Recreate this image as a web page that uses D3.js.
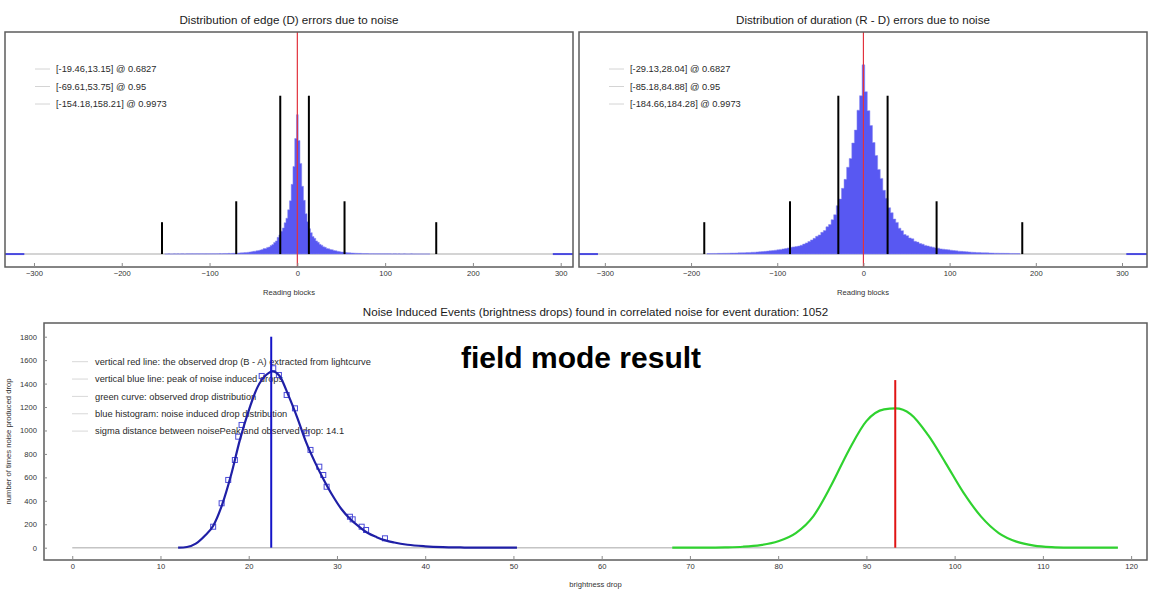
<!DOCTYPE html>
<html><head><meta charset="utf-8">
<script src="https://cdn.jsdelivr.net/npm/d3@7"></script>
<style>
body{margin:0;background:#fff}
svg text{font-family:"Liberation Sans",Arial,sans-serif}
</style>
</head><body>
<svg id="c" width="1152" height="592"></svg>
<script>
// ---------------- DATA ----------------
const topTitles = ["Distribution of edge (D) errors due to noise", "Distribution of duration (R - D) errors due to noise"];
const topXLabel = "Reading blocks";
const topTicks = [-300, -200, -100, 0, 100, 200, 300];
const confidenceLevels = ["0.6827", "0.95", "0.9973"];
const intervalMarkerHeights = [1590, 530, 320];

// edge (D) error histogram: bins of 2 blocks, centres from -150 to 150
const edgeBinStart = -150, edgeBinStep = 2;
const edgeCounts = [
  1,1,2,1,1,2,1,2,1,2,2,1,2,2,2,3,2,2,3,2,3,3,2,3,3,
  3,3,4,3,4,4,5,4,5,6,5,7,6,7,8,8,9,11,12,13,15,16,18,20,23,
  27,29,33,36,41,45,55,56,67,71,86,95,116,132,168,192,230,262,315,360,445,535,700,880,1160,
  1400,
  1140,910,680,540,405,325,255,215,176,158,132,118,98,89,73,68,56,53,45,43,36,34,28,26,21,
  20,18,16,14,12,11,10,9,8,7,7,6,5,5,5,4,4,4,3,3,3,3,2,2,2,
  2,2,2,1,2,2,1,2,1,1,2,1,1,1,2,1,1,1,1,1,1,1,1,1,1
];
const edgeIntervals = [[-19.46, 13.15], [-69.61, 53.75], [-154.18, 158.21]];
const edgeOverflow = [[-333, -311], [291, 314]];

// duration (R - D) error histogram: bins of 3 blocks, centres from -180 to 180
const durBinStart = -180, durBinStep = 3;
const durCounts = [
  5,5,6,6,7,7,8,8,9,10, 10,11,12,13,14,15,16,18,19,21, 23,25,27,30,33,36,39,42,47,52,
  56,62,68,72,76,80,88,100,112,125, 142,158,178,192,218,236,274,296,345,395, 486,552,660,750,872,960,1115,1245,1445,1590,
  1900,
  1630,1440,1290,1120,990,850,760,640,560,465, 415,352,318,260,235,196,184,162,153,128, 120,106,99,87,81,73,69,61,59,52,
  49,45,42,39,35,32,29,27,25,23, 21,19,17,16,15,14,13,12,11,10, 9,9,8,8,7,7,6,6,5,5
];
const durIntervals = [[-29.13, 28.04], [-85.18, 84.88], [-184.66, 184.28]];
const durOverflow = [[-330, -308], [305, 329]];

// bottom panel
const bottomTitle = "Noise Induced Events (brightness drops) found in correlated noise for event duration: 1052";
const bottomXLabel = "brightness drop";
const bottomYLabel = "number of times noise produced drop";
const bottomXTicks = [0, 10, 20, 30, 40, 50, 60, 70, 80, 90, 100, 110, 120];
const bottomYTicks = [0, 200, 400, 600, 800, 1000, 1200, 1400, 1600, 1800];
const bottomLegend = [
  "vertical red line: the observed drop (B - A) extracted from lightcurve",
  "vertical blue line: peak of noise induced drops",
  "green curve: observed drop distribution",
  "blue histogram: noise induced drop distribution",
  "sigma distance between noisePeak and observed drop: 14.1"
];
const stampText = "field mode result";
const baselineRange = [0, 118.5];

const noiseDropX = [12,13,14,15,16,17,18,19,20,21,22,22.7,23.5,24.5,25.5,26.5,27.5,28.5,29.5,30.5,31.5,32.5,33.5,34.5,35.5,36.5,38,40,42,44,46,50.4];
const noiseDropCount = [0,6,35,100,190,370,620,920,1170,1370,1475,1505,1465,1300,1110,900,730,580,445,330,245,180,125,90,62,44,25,12,5,2,0,0];

const histMarkerX = [15.97,16.93,17.68,18.43,18.81,19.19,21.47,22.78,23.42,24.3,25.24,26.56,27.0,28.0,28.45,28.83,31.47,31.78,32.8,33.3,35.44];
const histMarkerCount = [179,379,578,748,947,1047,1465,1531,1473,1303,1189,976,834,691,620,520,264,242,179,151,80];

const observedDropX = [68,70,72,74,76,78,80,82,84,86,88,90,92,93.3,95,97,99,101,103,105,107,109,111,113,115,118.5];
const observedDropCount = [0,0,1,3,8,22,55,125,270,530,830,1080,1180,1188,1140,960,720,470,265,125,52,18,5,1,0,0];

const noisePeak = 22.55, noisePeakTop = 1800;
const observedDrop = 93.27, observedDropTop = 1430;

// ---------------- DRAW ----------------
const svg = d3.select("#c");
const FRAME = "#5c5c5c";
const FONT = "Liberation Sans, Arial, sans-serif";

function topPanel(cfg) {
  const x = d3.scaleLinear().domain(cfg.domain).range([cfg.left, cfg.right]);
  const y = d3.scaleLinear().domain([-130, 2230]).range([cfg.bottom, cfg.top]);
  const g = svg.append("g");

  g.append("text").attr("x", (cfg.left + cfg.right) / 2).attr("y", cfg.top - 8)
    .attr("text-anchor", "middle").attr("font-size", 11.6).attr("fill", "#1a1a1a").text(cfg.title);

  // legend
  cfg.intervals.forEach((iv, i) => {
    const ly = cfg.legendY + i * 17.5;
    g.append("line").attr("x1", cfg.legendX).attr("x2", cfg.legendX + 15).attr("y1", ly).attr("y2", ly)
      .attr("stroke", "#d4d4d4").attr("stroke-width", 1);
    g.append("text").attr("x", cfg.legendX + 21).attr("y", ly).attr("dy", "0.35em")
      .attr("font-size", 9.3).attr("fill", "#2a2a2a")
      .text(`[${iv[0]},${iv[1]}] @ ${confidenceLevels[i]}`);
  });

  // baseline
  g.append("line").attr("x1", cfg.left).attr("x2", cfg.right).attr("y1", y(0)).attr("y2", y(0))
    .attr("stroke", "#c6c6c6").attr("stroke-width", 1.5);

  // histogram
  const pts = cfg.counts.map((c, i) => [cfg.start + i * cfg.step - cfg.step / 2, c]);
  pts.push([cfg.start + (cfg.counts.length - 1) * cfg.step + cfg.step / 2, cfg.counts[cfg.counts.length - 1]]);
  const area = d3.area().x(d => x(d[0])).y0(y(0)).y1(d => y(d[1])).curve(d3.curveStepAfter);
  g.append("path").attr("d", area(pts)).attr("fill", "#5858f2").attr("stroke", "#8a8af0").attr("stroke-width", 0.5);

  cfg.overflow.forEach(r => {
    g.append("line").attr("x1", x(r[0])).attr("x2", x(r[1])).attr("y1", y(0)).attr("y2", y(0))
      .attr("stroke", "#4a4ae0").attr("stroke-width", 2);
  });

  // confidence interval markers
  cfg.intervals.forEach((iv, i) => {
    iv.forEach(v => {
      g.append("line").attr("x1", x(v)).attr("x2", x(v)).attr("y1", y(0)).attr("y2", y(intervalMarkerHeights[i]))
        .attr("stroke", "#000").attr("stroke-width", 2);
    });
  });

  // red zero line
  g.append("line").attr("x1", x(0)).attr("x2", x(0)).attr("y1", cfg.bottom).attr("y2", cfg.top)
    .attr("stroke", "#e2323c").attr("stroke-width", 1.2);

  // frame
  g.append("rect").attr("x", cfg.left).attr("y", cfg.top).attr("width", cfg.right - cfg.left)
    .attr("height", cfg.bottom - cfg.top).attr("fill", "none").attr("stroke", FRAME).attr("stroke-width", 1.5);

  // axis
  const ax = g.append("g").attr("transform", `translate(0,${cfg.bottom})`)
    .call(d3.axisBottom(x).tickValues(topTicks).tickSize(-4).tickPadding(4));
  ax.select(".domain").remove();
  ax.selectAll("line").attr("stroke", "#8a8a8a");
  ax.selectAll("text").attr("font-size", 7.6).attr("fill", "#333").attr("font-family", FONT);

  g.append("text").attr("x", (cfg.left + cfg.right) / 2).attr("y", cfg.bottom + 28)
    .attr("text-anchor", "middle").attr("font-size", 7.6).attr("fill", "#333").text(topXLabel);
}

topPanel({left: 5, right: 573, top: 32, bottom: 267, domain: [-333, 314], title: topTitles[0],
  counts: edgeCounts, start: edgeBinStart, step: edgeBinStep, intervals: edgeIntervals,
  overflow: edgeOverflow, legendX: 35, legendY: 69});
topPanel({left: 579, right: 1147, top: 32, bottom: 267, domain: [-330, 329], title: topTitles[1],
  counts: durCounts, start: durBinStart, step: durBinStep, intervals: durIntervals,
  overflow: durOverflow, legendX: 609, legendY: 69});

// bottom panel
(function () {
  const L = 44, R = 1147, T = 323, B = 560;
  const x = d3.scaleLinear().domain([-3.2, 121.8]).range([L, R]);
  const y = d3.scaleLinear().domain([-105, 1917]).range([B, T]);
  const g = svg.append("g");

  g.append("text").attr("x", (L + R) / 2).attr("y", T - 7).attr("text-anchor", "middle")
    .attr("font-size", 11.6).attr("fill", "#1a1a1a").text(bottomTitle);

  // legend
  bottomLegend.forEach((t, i) => {
    const ly = 361.7 + i * 17.35;
    g.append("line").attr("x1", 72).attr("x2", 88).attr("y1", ly).attr("y2", ly)
      .attr("stroke", "#d8d8d8").attr("stroke-width", 1);
    g.append("text").attr("x", 95).attr("y", ly).attr("dy", "0.35em").attr("font-size", 9.3)
      .attr("fill", "#2a2a2a").text(t);
  });

  g.append("text").attr("x", 461).attr("y", 368).attr("font-size", 30).attr("font-weight", "bold")
    .attr("fill", "#000").text(stampText);

  // baseline
  g.append("line").attr("x1", x(baselineRange[0])).attr("x2", x(baselineRange[1])).attr("y1", y(0)).attr("y2", y(0))
    .attr("stroke", "#c4c4c4").attr("stroke-width", 1.5);

  const line = d3.line().x(d => x(d[0])).y(d => y(d[1])).curve(d3.curveMonotoneX);

  // histogram markers
  histMarkerX.forEach((v, i) => {
    g.append("rect").attr("x", x(v) - 2.5).attr("y", y(histMarkerCount[i]) - 2.5).attr("width", 5).attr("height", 5)
      .attr("fill", "none").attr("stroke", "#4a4ad8").attr("stroke-width", 1);
  });

  // noise curve
  g.append("path").attr("d", line(noiseDropX.map((v, i) => [v, noiseDropCount[i]])))
    .attr("fill", "none").attr("stroke", "#1f1fa6").attr("stroke-width", 2.2);

  // blue peak line
  g.append("line").attr("x1", x(noisePeak)).attr("x2", x(noisePeak)).attr("y1", y(0)).attr("y2", y(noisePeakTop))
    .attr("stroke", "#1414c8").attr("stroke-width", 2);

  // green curve
  g.append("path").attr("d", line(observedDropX.map((v, i) => [v, observedDropCount[i]])))
    .attr("fill", "none").attr("stroke", "#2fd22f").attr("stroke-width", 2.2);

  // red observed line
  g.append("line").attr("x1", x(observedDrop)).attr("x2", x(observedDrop)).attr("y1", y(0)).attr("y2", y(observedDropTop))
    .attr("stroke", "#e01414").attr("stroke-width", 2);

  // frame
  g.append("rect").attr("x", L).attr("y", T).attr("width", R - L).attr("height", B - T)
    .attr("fill", "none").attr("stroke", FRAME).attr("stroke-width", 1.5);

  const ax = g.append("g").attr("transform", `translate(0,${B})`)
    .call(d3.axisBottom(x).tickValues(bottomXTicks).tickSize(-4).tickPadding(4));
  ax.select(".domain").remove();
  ax.selectAll("line").attr("stroke", "#8a8a8a");
  ax.selectAll("text").attr("font-size", 7.6).attr("fill", "#333").attr("font-family", FONT);

  const ay = g.append("g").attr("transform", `translate(${L},0)`)
    .call(d3.axisLeft(y).tickValues(bottomYTicks).tickFormat(d3.format("d")).tickSize(-3).tickPadding(7));
  ay.select(".domain").remove();
  ay.selectAll("line").attr("stroke", "#8a8a8a");
  ay.selectAll("text").attr("font-size", 7.6).attr("fill", "#333").attr("font-family", FONT);

  g.append("text").attr("x", (L + R) / 2).attr("y", 587).attr("text-anchor", "middle")
    .attr("font-size", 7.6).attr("fill", "#333").text(bottomXLabel);
  g.append("text").attr("transform", `translate(11,${(T + B) / 2}) rotate(-90)`).attr("text-anchor", "middle")
    .attr("font-size", 7.6).attr("fill", "#333").text(bottomYLabel);
})();
</script>
</body></html>
